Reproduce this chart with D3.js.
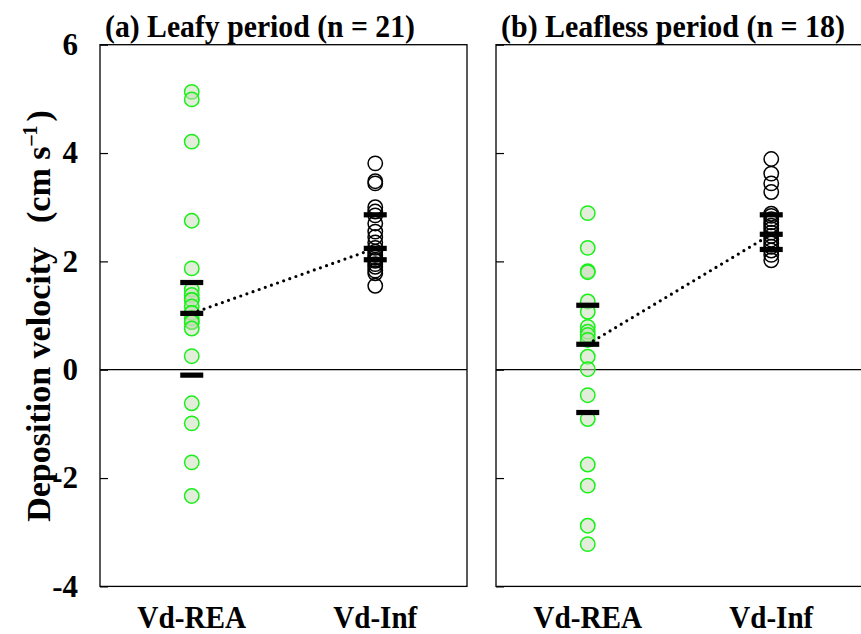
<!DOCTYPE html>
<html>
<head>
<meta charset="utf-8">
<script src="https://cdn.jsdelivr.net/npm/d3@7"></script>
<style>
  body { margin: 0; background: #fff; }
  text { font-family: "Liberation Serif", "Times New Roman", serif; font-weight: bold; fill: #000; }
</style>
</head>
<body>
<svg id="chart" width="861" height="634"></svg>
<script>
// Groups on the x axis of each panel
const groups = ["Vd-REA", "Vd-Inf"];
const panelTitles = ["(a) Leafy period (n = 21)", "(b) Leafless period (n = 18)"];
const yTicks = [-4, -2, 0, 2, 4, 6];

// Individual deposition velocities (cm s-1)
const leafyREA = [5.13, 4.99, 4.21, 2.75, 1.87, 1.48, 1.38, 1.29, 1.29, 1.17, 1.05, 1.05,
                  0.95, 0.88, 0.88, 0.76, 0.25, -0.62, -0.99, -1.71, -2.33];
const leafyInf = [3.81, 3.48, 3.44, 3.00, 2.92, 2.85, 2.70, 2.55, 2.45, 2.35, 2.25,
                  2.18, 2.12, 2.07, 2.03, 2.01, 1.95, 1.90, 1.83, 1.78, 1.55];
const leaflessREA = [2.89, 2.25, 1.82, 1.80, 1.26, 1.07, 0.79, 0.70, 0.64, 0.55, 0.24,
                     0.01, -0.47, -0.91, -1.75, -2.14, -2.88, -3.22];
const leaflessInf = [3.89, 3.62, 3.44, 3.28, 2.88, 2.84, 2.78, 2.72, 2.66, 2.60, 2.53,
                     2.47, 2.40, 2.33, 2.27, 2.20, 2.12, 2.02];

// Lower quartile, median, upper quartile of each group
const leafyREAStats = [-0.10, 1.04, 1.61];
const leafyInfStats = [2.03, 2.24, 2.86];
const leaflessREAStats = [-0.79, 0.47, 1.19];
const leaflessInfStats = [2.22, 2.50, 2.86];

const panels = [
  { title: panelTitles[0], values: [leafyREA, leafyInf], stats: [leafyREAStats, leafyInfStats] },
  { title: panelTitles[1], values: [leaflessREA, leaflessInf], stats: [leaflessREAStats, leaflessInfStats] }
];

const svg = d3.select("#chart");
const plotTop = 44.7, plotBottom = 586.4, panelW = 367;
const panelX = [100, 496];

const y = d3.scaleLinear().domain([-4, 6]).range([plotBottom, plotTop]);

const markStyle = [
  { stroke: "#18f018", fill: "#c6dcb6", fillOpacity: 0.5 },
  { stroke: "#000", fill: "none", fillOpacity: 0 }
];

// squeeze text to a given width so the tall, narrow serif look is kept
function fitWidth(sel, w) {
  sel.attr("textLength", w).attr("lengthAdjust", "spacingAndGlyphs");
}

panels.forEach((p, i) => {
  const g = svg.append("g").attr("transform", `translate(${panelX[i]},0)`);
  const x = d3.scalePoint().domain(groups).range([0, panelW]).padding(0.5);

  // zero reference line
  g.append("line")
    .attr("x1", 0).attr("x2", panelW)
    .attr("y1", y(0)).attr("y2", y(0))
    .attr("stroke", "#000").attr("stroke-width", 1.2);

  // y axis with inward ticks; labels only on the first panel
  const axis = d3.axisLeft(y).tickValues(yTicks).tickSize(-8).tickPadding(22)
    .tickFormat(i === 0 ? d3.format("d") : () => "");
  const ax = g.append("g").call(axis);
  ax.select(".domain").remove();
  ax.selectAll(".tick line").attr("stroke", "#000").attr("stroke-width", 1.2);
  ax.selectAll(".tick text")
    .attr("font-size", 31).attr("font-family", "Liberation Serif").attr("font-weight", "bold")
    .attr("fill", "#000")
    .text(d => (i === 0 ? String(d) : ""));

  // points
  p.values.forEach((vals, gi) => {
    const st = markStyle[gi];
    g.append("g").selectAll("circle").data(vals).join("circle")
      .attr("cx", x(groups[gi]))
      .attr("cy", d => y(d))
      .attr("r", 7.2)
      .attr("fill", st.fill)
      .attr("fill-opacity", st.fillOpacity)
      .attr("stroke", st.stroke)
      .attr("stroke-width", 1.5);
  });

  // dotted line joining the medians
  g.append("line")
    .attr("x1", x(groups[0])).attr("y1", y(p.stats[0][1]))
    .attr("x2", x(groups[1])).attr("y2", y(p.stats[1][1]))
    .attr("stroke", "#000").attr("stroke-width", 3.2)
    .attr("stroke-linecap", "round").attr("stroke-dasharray", "0 6.5");

  // quartile and median bars
  p.stats.forEach((s, gi) => {
    g.append("g").selectAll("rect").data(s).join("rect")
      .attr("x", x(groups[gi]) - 11.5)
      .attr("y", d => y(d) - 2.6)
      .attr("width", 23).attr("height", 5.2)
      .attr("fill", "#000");
  });

  // frame (the second panel runs past the right edge of the page)
  g.append("rect")
    .attr("x", 0).attr("y", plotTop)
    .attr("width", panelW + (i === 1 ? 10 : 0)).attr("height", plotBottom - plotTop)
    .attr("fill", "none").attr("stroke", "#000").attr("stroke-width", 1.3);

  // title
  g.append("text")
    .attr("x", 5).attr("y", 37)
    .attr("font-size", 31)
    .call(fitWidth, i === 0 ? 310 : 344)
    .text(p.title);

  // category labels
  g.append("g").selectAll("text").data(groups).join("text")
    .attr("x", d => x(d)).attr("y", 628)
    .attr("text-anchor", "middle")
    .attr("font-size", 32)
    .each(function (d) { fitWidth(d3.select(this), d === "Vd-REA" ? 109 : 84); })
    .text(d => d);
});

// y axis title
const yt = svg.append("text")
  .attr("transform", "translate(50,316) rotate(-90)")
  .attr("text-anchor", "middle")
  .attr("font-size", 34);
yt.append("tspan").text("Deposition velocity");
yt.append("tspan").attr("dx", 24).text("(cm s");
yt.append("tspan").attr("font-size", 20).attr("dy", -13).attr("dx", 1).text("–1");
yt.append("tspan").attr("dy", 13).attr("dx", 4).text(")");
</script>
</body>
</html>
